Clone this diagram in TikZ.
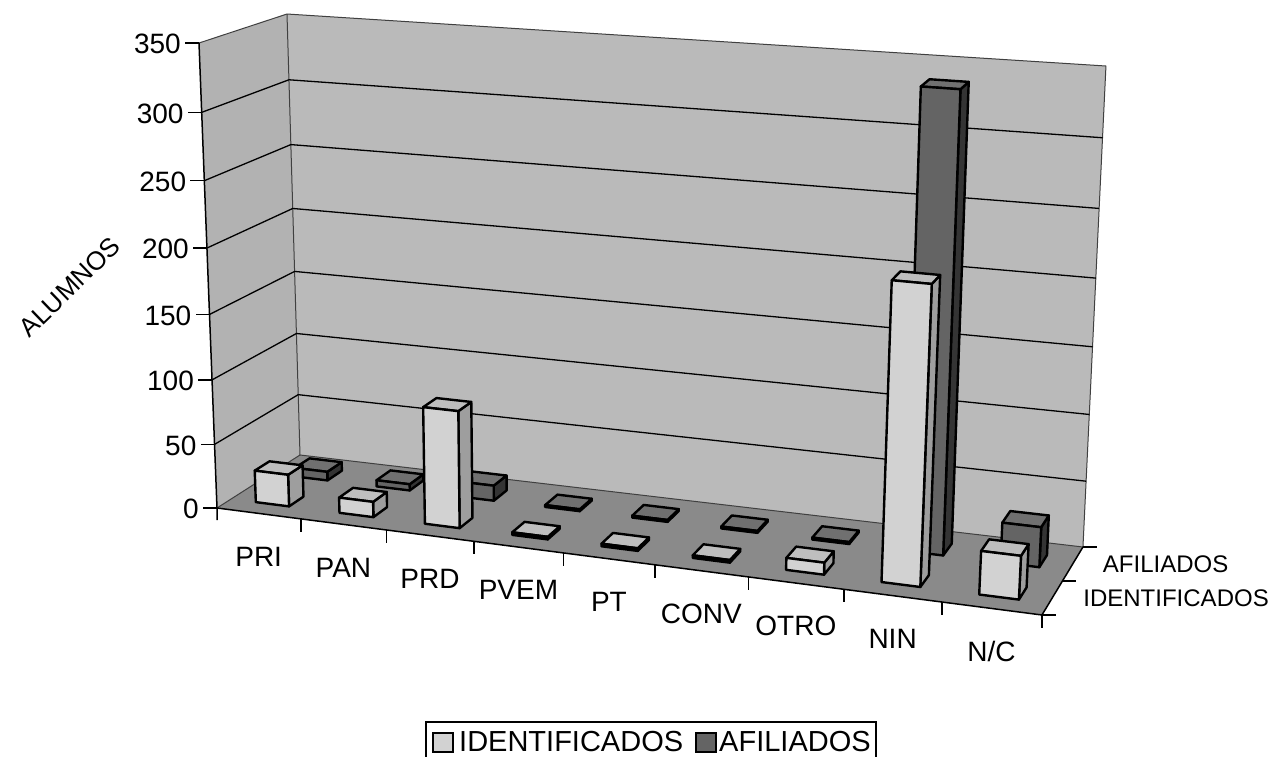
\documentclass[tikz,border=0pt]{standalone}
\usepackage{fontspec}
\setmainfont{Liberation Sans}
\usetikzlibrary{calc}
\definecolor{wallc}{RGB}{186,186,186}
\definecolor{lwallc}{RGB}{178,178,178}
\definecolor{floorc}{RGB}{138,138,138}
\definecolor{idfrontc}{RGB}{210,210,210}
\definecolor{idtopc}{RGB}{190,190,190}
\definecolor{idsidec}{RGB}{158,158,158}
\definecolor{affrontc}{RGB}{100,100,100}
\definecolor{aftopc}{RGB}{112,112,112}
\definecolor{afsidec}{RGB}{52,52,52}
% point of the chart box: #1 name, #2 category (0..9), #3 depth (0 front..1 back), #4 value (0..350)
\newcommand{\mkpt}[4]{%
  \pgfmathsetmacro{\mU}{0.905*((#2)/9)/(1-0.095*((#2)/9))}%
  \pgfmathsetmacro{\mW}{#3}%
  \pgfmathsetmacro{\mH}{0.951*((#4)/350)/(1-0.049*((#4)/350))}%
  \pgfmathsetmacro{\mBx}{(1-\mU)*(1-\mW)*217+\mU*(1-\mW)*1042+(1-\mU)*\mW*300+\mU*\mW*1083}%
  \pgfmathsetmacro{\mBy}{(1-\mU)*(1-\mW)*508+\mU*(1-\mW)*615+(1-\mU)*\mW*455+\mU*\mW*547}%
  \pgfmathsetmacro{\mTx}{(1-\mU)*(1-\mW)*199+\mU*(1-\mW)*1068+(1-\mU)*\mW*287+\mU*\mW*1106}%
  \pgfmathsetmacro{\mTy}{(1-\mU)*(1-\mW)*43+\mU*(1-\mW)*108+(1-\mU)*\mW*14+\mU*\mW*66}%
  \coordinate (#1) at ({\mBx+\mH*(\mTx-\mBx)},{\mBy+\mH*(\mTy-\mBy)});%
}
% bar: #1 category, #2 front depth, #3 back depth, #4 value, #5 series prefix, #6 name
\newcommand{\drawbar}[6]{%
  \mkpt{#6fbl}{#1+0.3}{#2}{0}%
  \mkpt{#6fbr}{#1+0.7}{#2}{0}%
  \mkpt{#6ftl}{#1+0.3}{#2}{#4}%
  \mkpt{#6ftr}{#1+0.7}{#2}{#4}%
  \mkpt{#6btl}{#1+0.3}{#3}{#4}%
  \mkpt{#6btr}{#1+0.7}{#3}{#4}%
  \mkpt{#6bbr}{#1+0.7}{#3}{0}%
  \draw[barline,#5side] (#6fbr)--(#6bbr)--(#6btr)--(#6ftr)--cycle;%
  \draw[barline,#5top] (#6ftl)--(#6ftr)--(#6btr)--(#6btl)--cycle;%
  \draw[barline,#5front] (#6fbl)--(#6fbr)--(#6ftr)--(#6ftl)--cycle;%
}
\begin{document}
\begin{tikzpicture}[x=1pt,y=-1pt,
  wall/.style={fill=wallc},
  lwall/.style={fill=lwallc},
  floorface/.style={fill=floorc},
  edge/.style={draw=black!75,line width=1pt},
  gridline/.style={draw=black,line width=1.3pt},
  axisline/.style={draw=black,line width=1.5pt},
  barline/.style={draw=black,line width=2.4pt,line join=round},
  idfront/.style={fill=idfrontc},
  idtop/.style={fill=idtopc},
  idside/.style={fill=idsidec},
  affront/.style={fill=affrontc},
  aftop/.style={fill=aftopc},
  afside/.style={fill=afsidec},
  ticklab/.style={inner sep=0pt,anchor=east,font=\fontsize{28}{30}\selectfont},
  catlab/.style={inner sep=0pt,font=\fontsize{28}{30}\selectfont},
  serlab/.style={inner sep=0pt,anchor=west,font=\fontsize{24}{26}\selectfont},
  leglab/.style={inner sep=0pt,anchor=west,font=\fontsize{29}{31}\selectfont},
  legbox/.style={draw=black,line width=1.2pt},
  legkey/.style={draw=black,line width=2pt}]
\useasboundingbox (0,0) rectangle (1275,757);
\fill[white] (0,0) rectangle (1275,757);
% box corners
\mkpt{f00}{0}{0}{0}
\mkpt{f90}{9}{0}{0}
\mkpt{f01}{0}{1}{0}
\mkpt{f91}{9}{1}{0}
\mkpt{t00}{0}{0}{350}
\mkpt{t01}{0}{1}{350}
\mkpt{t91}{9}{1}{350}
% walls and floor
\fill[wall] (f01)--(f91)--(t91)--(t01)--cycle;
\fill[lwall] (f00)--(f01)--(t01)--(t00)--cycle;
\fill[floorface] (f00)--(f90)--(f91)--(f01)--cycle;
\draw[edge] (t00)--(t01)--(t91)--(f91);
\draw[edge] (t01)--(f01)--(f91);
\draw[edge] (f00)--(f01);
\draw[axisline] (f00)--(f90)--(f91);
% gridlines
\foreach \v in {50,100,...,300}{%
  \mkpt{ga}{0}{0}{\v}\mkpt{gb}{0}{1}{\v}\mkpt{gc}{9}{1}{\v}%
  \draw[gridline] (ga)--(gb)--(gc);}
% value axis
\draw[axisline] (t00)--(f00)--++(0,12);
\foreach \v in {0,50,...,350}{%
  \mkpt{ya}{0}{0}{\v}%
  \draw[axisline] (ya)--++(-14,0);
  \node[ticklab] (yl\v) at ($(ya)+(-18,1)$) {\v};}
\node[rotate=44,inner sep=0pt,font=\fontsize{26}{28}\selectfont] (ytitle) at (70,287) {ALUMNOS};
% category axis
\foreach \k in {1,...,9}{%
  \mkpt{ca}{\k}{0}{0}%
  \draw[axisline] (ca)--++(0,13);}
\foreach \k/\lab in {0/PRI,1/PAN,2/PRD,3/PVEM,4/PT,5/CONV,6/OTRO,7/NIN,8/N\slash C}{%
  \mkpt{cl}{\k+0.5}{0}{0}%
  \node[catlab] (cat\k) at ($(cl)+(0,43)$) {\lab};}
% series axis
\foreach \w in {0,0.5,1}{%
  \mkpt{da}{9}{\w}{0}%
  \draw[axisline] (da)--++(14,0);}
\mkpt{sa}{9}{0.75}{0}
\mkpt{sb}{9}{0.25}{0}
\node[serlab] (safil) at ($(sa)+(30,0)$) {AFILIADOS};
\node[serlab] (sident) at ($(sb)+(31,0)$) {IDENTIFICADOS};
% AFILIADOS bars (back row)
\drawbar{0}{0.65}{0.83}{7}{af}{a0}
\drawbar{1}{0.65}{0.83}{5}{af}{a1}
\drawbar{2}{0.65}{0.83}{12}{af}{a2}
\drawbar{3}{0.65}{0.83}{1.5}{af}{a3}
\drawbar{4}{0.65}{0.83}{1.5}{af}{a4}
\drawbar{5}{0.65}{0.83}{1.5}{af}{a5}
\drawbar{6}{0.65}{0.83}{1.5}{af}{a6}
\drawbar{7}{0.65}{0.83}{338}{af}{a7}
\drawbar{8}{0.65}{0.83}{30}{af}{a8}
% IDENTIFICADOS bars (front row)
\drawbar{0}{0.17}{0.35}{25}{id}{i0}
\drawbar{1}{0.17}{0.35}{12}{id}{i1}
\drawbar{2}{0.17}{0.35}{90}{id}{i2}
\drawbar{3}{0.17}{0.35}{2}{id}{i3}
\drawbar{4}{0.17}{0.35}{2}{id}{i4}
\drawbar{5}{0.17}{0.35}{2}{id}{i5}
\drawbar{6}{0.17}{0.35}{9}{id}{i6}
\drawbar{7}{0.17}{0.35}{218}{id}{i7}
\drawbar{8}{0.17}{0.35}{32}{id}{i8}
% legend
\draw[legbox] (426,722) rectangle (876,800);
\draw[legkey,idfront] (433,733) rectangle (453,752);
\node[leglab] (lid) at (459,742) {IDENTIFICADOS};
\draw[legkey,affront] (696,733) rectangle (716,752);
\node[leglab] (laf) at (719,742) {AFILIADOS};
\end{tikzpicture}
\end{document}
